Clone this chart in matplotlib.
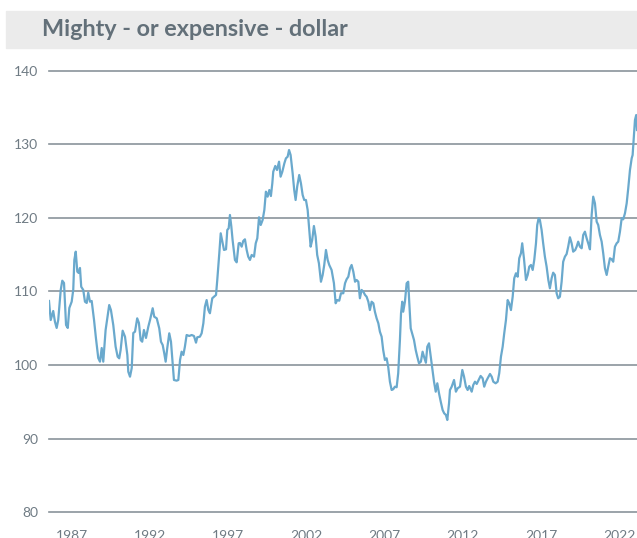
import numpy as np
import matplotlib.pyplot as plt
from matplotlib.patches import Rectangle

# dollar index (decimal year, index level)
years = [1985.53, 1985.64, 1985.80, 1985.91, 1986.02, 1986.12, 1986.28, 1986.38, 1986.49, 1986.62,
         1986.73, 1986.83, 1986.98, 1987.08, 1987.15, 1987.24, 1987.34, 1987.43, 1987.51, 1987.59,
         1987.72, 1987.83, 1987.94, 1988.04, 1988.15, 1988.26, 1988.41, 1988.53, 1988.68, 1988.79,
         1988.90, 1989.00, 1989.15, 1989.26, 1989.38, 1989.49, 1989.64, 1989.79, 1989.92, 1990.02,
         1990.11, 1990.24, 1990.39, 1990.54, 1990.60, 1990.71, 1990.82, 1990.92, 1991.03, 1991.17,
         1991.28, 1991.39, 1991.49, 1991.60, 1991.73, 1991.88, 1991.99, 1992.16, 1992.26, 1992.42,
         1992.58, 1992.69, 1992.80, 1992.90, 1992.99, 1993.09, 1993.22, 1993.33, 1993.44, 1993.52,
         1993.69, 1993.80, 1993.91, 1994.01, 1994.12, 1994.22, 1994.33, 1994.50, 1994.65, 1994.80,
         1994.93, 1995.01, 1995.18, 1995.29, 1995.40, 1995.50, 1995.61, 1995.72, 1995.82, 1995.97,
         1996.08, 1996.21, 1996.29, 1996.42, 1996.51, 1996.64, 1996.72, 1996.85, 1996.93, 1997.02,
         1997.10, 1997.19, 1997.27, 1997.42, 1997.53, 1997.66, 1997.74, 1997.85, 1997.95, 1998.06,
         1998.17, 1998.27, 1998.38, 1998.49, 1998.64, 1998.75, 1998.85, 1998.96, 1999.07, 1999.19,
         1999.30, 1999.40, 1999.51, 1999.62, 1999.72, 1999.81, 1999.87, 2000.00, 2000.11, 2000.24,
         2000.34, 2000.45, 2000.58, 2000.68, 2000.79, 2000.88, 2000.98, 2001.11, 2001.21, 2001.30,
         2001.40, 2001.53, 2001.64, 2001.75, 2001.85, 2001.96, 2002.07, 2002.17, 2002.26, 2002.36,
         2002.47, 2002.58, 2002.68, 2002.79, 2002.92, 2003.03, 2003.13, 2003.24, 2003.35, 2003.45,
         2003.60, 2003.75, 2003.86, 2003.96, 2004.09, 2004.20, 2004.35, 2004.46, 2004.56, 2004.67,
         2004.78, 2004.88, 2004.99, 2005.10, 2005.20, 2005.31, 2005.41, 2005.52, 2005.63, 2005.74,
         2005.84, 2005.95, 2006.05, 2006.16, 2006.27, 2006.37, 2006.48, 2006.59, 2006.69, 2006.80,
         2006.90, 2007.01, 2007.12, 2007.22, 2007.33, 2007.44, 2007.54, 2007.65, 2007.76, 2007.86,
         2007.97, 2008.04, 2008.12, 2008.18, 2008.29, 2008.40, 2008.50, 2008.57, 2008.66, 2008.78,
         2008.87, 2008.98, 2009.08, 2009.19, 2009.31, 2009.42, 2009.51, 2009.63, 2009.72, 2009.83,
         2009.94, 2010.04, 2010.15, 2010.26, 2010.36, 2010.47, 2010.58, 2010.70, 2010.80, 2010.91,
         2011.00, 2011.11, 2011.17, 2011.28, 2011.43, 2011.55, 2011.66, 2011.81, 2011.96, 2012.07,
         2012.19, 2012.30, 2012.40, 2012.56, 2012.66, 2012.77, 2012.88, 2013.00, 2013.13, 2013.26,
         2013.36, 2013.47, 2013.58, 2013.73, 2013.84, 2013.94, 2014.09, 2014.22, 2014.32, 2014.43,
         2014.54, 2014.64, 2014.75, 2014.86, 2014.96, 2015.07, 2015.18, 2015.28, 2015.39, 2015.50,
         2015.60, 2015.71, 2015.79, 2015.90, 2016.03, 2016.14, 2016.24, 2016.35, 2016.46, 2016.56,
         2016.67, 2016.75, 2016.84, 2016.92, 2017.03, 2017.13, 2017.24, 2017.35, 2017.46, 2017.56,
         2017.67, 2017.77, 2017.88, 2017.99, 2018.09, 2018.20, 2018.31, 2018.41, 2018.52, 2018.63,
         2018.73, 2018.84, 2018.95, 2019.05, 2019.18, 2019.27, 2019.37, 2019.48, 2019.59, 2019.69,
         2019.80, 2019.91, 2020.01, 2020.12, 2020.23, 2020.33, 2020.44, 2020.55, 2020.65, 2020.76,
         2020.87, 2020.97, 2021.08, 2021.19, 2021.29, 2021.40, 2021.51, 2021.61, 2021.72, 2021.83,
         2021.93, 2022.04, 2022.15, 2022.25, 2022.36, 2022.47, 2022.57, 2022.68, 2022.79, 2022.85,
         2022.93, 2023.00, 2023.08, 2023.13]
index = [108.71, 106.12, 107.35, 105.89, 105.04, 106.12, 110.21, 111.47, 111.16, 105.44,
         105.04, 107.76, 108.61, 110.21, 114.29, 115.42, 112.70, 112.52, 113.20, 110.65,
         110.21, 108.61, 108.44, 109.84, 108.61, 108.71, 106.12, 103.68, 100.95, 100.45,
         102.31, 100.45, 104.76, 106.40, 108.16, 107.48, 105.44, 102.49, 101.13, 100.91,
         102.04, 104.67, 103.85, 101.36, 99.09, 98.41, 99.59, 104.36, 104.53, 106.35,
         105.72, 103.40, 103.17, 104.76, 103.68, 105.21, 106.12, 107.72, 106.57, 106.35,
         104.99, 103.17, 102.72, 101.59, 100.45, 102.27, 104.31, 103.17, 100.23, 97.96,
         97.87, 97.96, 100.68, 101.81, 101.36, 102.49, 104.08, 103.95, 104.08, 103.95,
         103.04, 103.77, 103.85, 104.31, 105.67, 107.93, 108.84, 107.48, 107.04, 109.08,
         109.29, 109.53, 111.57, 115.20, 117.92, 116.56, 115.65, 115.74, 118.37, 118.60,
         120.41, 118.82, 117.01, 114.29, 113.97, 116.56, 116.60, 116.10, 116.87, 117.10,
         115.65, 114.74, 114.29, 114.97, 114.74, 116.56, 117.24, 120.10, 119.05, 119.73,
         121.09, 123.58, 122.90, 123.81, 122.99, 124.72, 126.30, 127.08, 126.53, 127.66,
         125.62, 126.30, 127.44, 128.12, 128.34, 129.25, 128.57, 126.08, 123.81, 122.45,
         124.26, 125.85, 124.72, 123.13, 122.45, 122.45, 121.09, 118.37, 116.10, 117.01,
         118.91, 117.46, 114.97, 113.84, 111.33, 112.25, 113.61, 115.65, 114.29, 113.61,
         112.93, 111.12, 108.40, 108.84, 108.75, 109.76, 109.76, 111.12, 111.66, 112.01,
         113.16, 113.61, 112.70, 111.33, 111.57, 111.33, 109.08, 110.21, 109.97, 109.53,
         109.29, 108.61, 107.48, 108.61, 108.40, 107.25, 106.35, 105.67, 104.53, 103.85,
         102.04, 100.68, 100.91, 99.77, 97.73, 96.60, 96.70, 97.05, 96.97, 98.87,
         103.40, 107.04, 108.61, 107.25, 108.61, 111.12, 111.33, 108.40, 104.99, 104.08,
         103.40, 102.04, 101.13, 100.23, 100.45, 101.81, 101.13, 100.31, 102.49, 102.95,
         101.13, 99.55, 97.73, 96.37, 97.51, 96.15, 95.01, 93.88, 93.43, 93.20,
         92.52, 94.79, 96.60, 97.05, 97.96, 96.37, 96.83, 97.05, 99.32, 98.41,
         97.05, 96.60, 97.14, 96.37, 97.28, 97.73, 97.42, 97.96, 98.51, 98.19,
         97.05, 97.73, 98.19, 98.78, 98.41, 97.73, 97.51, 97.73, 98.87, 101.13,
         102.49, 104.31, 106.12, 108.84, 108.40, 107.48, 109.29, 111.80, 112.48, 112.01,
         114.52, 115.20, 116.56, 114.52, 111.57, 112.25, 113.38, 113.61, 112.93, 114.29,
         116.56, 119.05, 119.96, 119.73, 118.37, 116.56, 114.74, 113.38, 111.57, 110.44,
         111.80, 112.56, 112.25, 109.76, 109.08, 109.29, 111.33, 114.05, 114.74, 115.10,
         116.10, 117.38, 116.56, 115.42, 115.65, 116.10, 116.78, 116.10, 115.88, 117.69,
         118.14, 117.24, 116.56, 115.74, 120.41, 122.90, 122.00, 119.50, 119.05, 117.69,
         116.78, 115.20, 113.16, 112.25, 113.38, 114.52, 114.38, 114.05, 116.10, 116.56,
         116.78, 118.14, 119.96, 119.82, 120.64, 122.00, 124.04, 126.53, 128.12, 128.57,
         131.06, 133.33, 134.01, 131.97]

tick_years = [1987, 1992, 1997, 2002, 2007, 2012, 2017, 2022]
y_ticks = [80, 90, 100, 110, 120, 130, 140]

title = "Mighty - or expensive - dollar"

plt.rcParams['font.family'] = ['Lato', 'DejaVu Sans']

fig = plt.figure(figsize=(6.37, 5.38), dpi=100)

# gray title band
fig.patches.append(Rectangle((6/637, 1-48/538), 631/637, 37/538,
                             transform=fig.transFigure, color='#ebebeb', zorder=0))
fig.text(42/637, 1-30/538, title, fontsize=16.8, fontweight='bold',
         color='#637079', va='center', ha='left')

ax = fig.add_axes([49/637, 1-512/538, 588/637, 441/538])
ax.plot(years, index, color='#6aa9cd', lw=1.6, zorder=3)

ax.set_xlim(1985.53, 2023.13)
ax.set_ylim(80, 140)
ax.set_xticks(tick_years)
ax.set_yticks(y_ticks)
ax.tick_params(axis='both', length=0, labelsize=10, labelcolor='#6f7b84')
ax.tick_params(axis='y', pad=8)
ax.tick_params(axis='x', pad=13)

ax.grid(axis='y', color='#8a949b', lw=1.2)
ax.grid(axis='x', visible=False)
for s in ax.spines.values():
    s.set_visible(False)
for gl in ax.get_ygridlines():
    gl.set_clip_on(False)

fig.savefig("out.png", dpi=100)
